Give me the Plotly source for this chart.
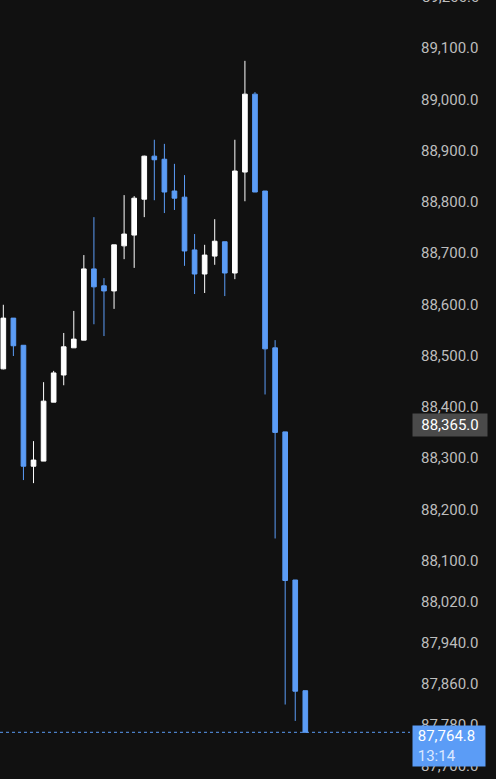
import plotly.graph_objects as go

# ---- data ----
bar_index = list(range(31))
open_ = [88474, 88573, 88520, 88284, 88294, 88409, 88462, 88515, 88530, 88669,
         88636, 88626, 88714, 88735, 88805, 88889, 88883, 88821, 88809, 88706,
         88659, 88694, 88722, 88661, 88858, 89010, 88821, 88515, 88351, 88062,
         87846]
high = [88599, 88573, 88520, 88333, 88448, 88470, 88544, 88587, 88696, 88770,
        88651, 88716, 88813, 88811, 88890, 88921, 88913, 88874, 88852, 88737,
        88716, 88766, 88722, 88921, 89075, 89014, 88821, 88530, 88351, 88062,
        87846]
low = [88473, 88499, 88257, 88251, 88294, 88409, 88442, 88515, 88530, 88561,
       88538, 88591, 88688, 88671, 88770, 88803, 88778, 88784, 88675, 88620,
       88622, 88677, 88616, 88649, 88801, 88819, 88424, 88143, 87819, 87787,
       87764.8]
close = [88573, 88519, 88284, 88296, 88411, 88466, 88517, 88532, 88669, 88634,
         88626, 88716, 88737, 88807, 88889, 88882, 88819, 88807, 88704, 88659,
         88696, 88723, 88661, 88860, 89010, 88819, 88513, 88350, 88061, 87845,
         87764.8]

tick_values = [89100, 89000, 88900, 88800, 88700, 88600, 88500, 88400, 88300,
               88200, 88100, 88020, 87940, 87860, 87780, 87700]
tick_labels = [f"{v:,.1f}" for v in tick_values]
top_cut_tick = 89200
marker_price = 88365.0
last_price = 87764.8
countdown = "13:14"

Y_RANGE = [87673.7, 89193.7]

UP = "#ffffff"
DOWN = "#5b9cf6"
BG = "#111111"
TXT = "#bdbdbd"
FONT = "Roboto"
FS = 15

fig = go.Figure()
fig.add_trace(go.Candlestick(
    x=bar_index, open=open_, high=high, low=low, close=close,
    increasing=dict(line=dict(color=UP, width=1), fillcolor=UP),
    decreasing=dict(line=dict(color=DOWN, width=1), fillcolor=DOWN),
    whiskerwidth=0, hoverinfo="skip", showlegend=False,
))

fig.add_shape(type="line", xref="paper", x0=0, x1=1, yref="y",
              y0=last_price, y1=last_price,
              line=dict(color=DOWN, width=1, dash="dot"))

# the top tick lies just above the axis range, so place it in paper units
top_tick_paper = (top_cut_tick - Y_RANGE[0]) / (Y_RANGE[1] - Y_RANGE[0])

annotations = [
    dict(xref="paper", x=1, yref="paper", y=top_tick_paper, xanchor="left",
         yanchor="middle", xshift=10, showarrow=False,
         text=f"{top_cut_tick:,.1f}", font=dict(family=FONT, size=FS, color=TXT)),
    dict(xref="paper", x=1, yref="y", y=marker_price, xanchor="left",
         yanchor="middle", xshift=2, showarrow=False, width=70, align="center",
         bgcolor="#4a4a4a", borderpad=2,
         text=f"{marker_price:,.1f}", font=dict(family=FONT, size=FS, color="#ffffff")),
    dict(xref="paper", x=1, yref="y", y=last_price, xanchor="left",
         yanchor="top", xshift=2, yshift=7, showarrow=False, width=70, align="left",
         bgcolor=DOWN, borderpad=1,
         text=f" {last_price:,.1f}<br> <span style='color:#dbe8ff'>{countdown}</span>",
         font=dict(family=FONT, size=FS, color="#ffffff")),
]

fig.update_layout(
    width=496, height=779,
    margin=dict(l=0, r=86, t=0, b=0),
    paper_bgcolor=BG, plot_bgcolor=BG,
    showlegend=False,
    boxgap=0.34,
    xaxis=dict(range=[-0.33, 40.4], visible=False, rangeslider=dict(visible=False),
               fixedrange=True),
    yaxis=dict(range=Y_RANGE, side="right", showgrid=False,
               zeroline=False, showline=False, ticks="",
               tickvals=tick_values, ticktext=tick_labels,
               ticklabelstandoff=10,
               tickfont=dict(family=FONT, size=FS, color=TXT), fixedrange=True),
    annotations=annotations,
)

fig.write_html(
    "out.html",
    config={"displayModeBar": False},
    post_script="document.body.style.margin='0';document.body.style.background='#111111';",
)
